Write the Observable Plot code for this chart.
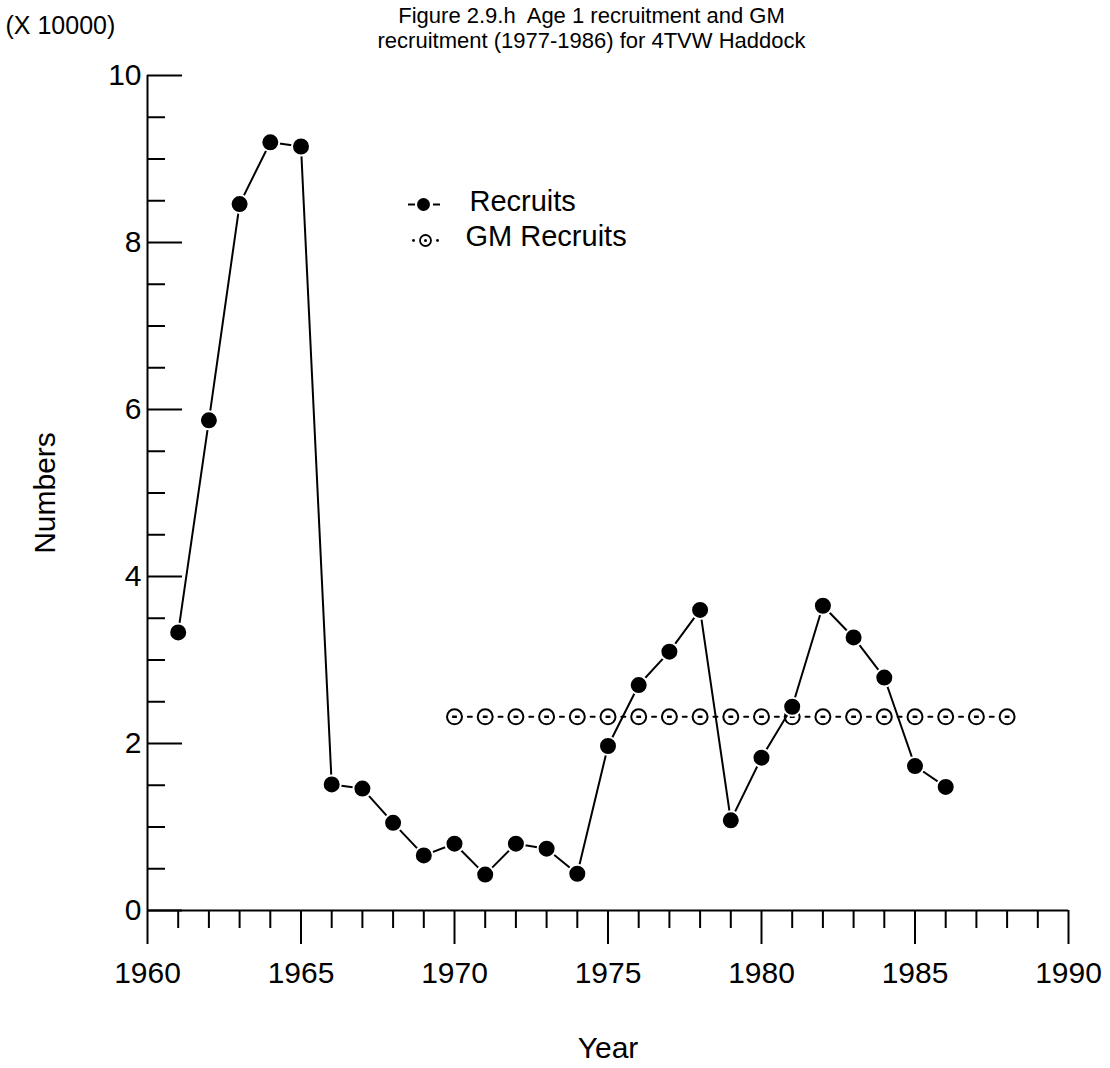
<!DOCTYPE html>
<html>
<head>
<meta charset="utf-8">
<script src="https://cdn.jsdelivr.net/npm/d3@7"></script>
<script src="https://cdn.jsdelivr.net/npm/@observablehq/plot@0.6"></script>
<style>
  body { margin: 0; background: #fff; }
  #chart svg { display: block; }
</style>
</head>
<body>
<div id="chart"></div>
<script>
// ---- Data ----
const recruitYears = [1961, 1962, 1963, 1964, 1965, 1966, 1967, 1968, 1969, 1970, 1971, 1972, 1973,
                      1974, 1975, 1976, 1977, 1978, 1979, 1980, 1981, 1982, 1983, 1984, 1985, 1986];
const recruitValues = [3.33, 5.87, 8.46, 9.20, 9.15, 1.51, 1.46, 1.05, 0.66, 0.80, 0.43, 0.80, 0.74,
                       0.44, 1.97, 2.70, 3.10, 3.60, 1.08, 1.83, 2.44, 3.65, 3.27, 2.79, 1.73, 1.48];
const gmYears = [1970, 1971, 1972, 1973, 1974, 1975, 1976, 1977, 1978, 1979,
                 1980, 1981, 1982, 1983, 1984, 1985, 1986, 1987, 1988];
const gmValues = [2.32, 2.32, 2.32, 2.32, 2.32, 2.32, 2.32, 2.32, 2.32, 2.32,
                  2.32, 2.32, 2.32, 2.32, 2.32, 2.32, 2.32, 2.32, 2.32];

const xMajorTicks = [1960, 1965, 1970, 1975, 1980, 1985, 1990];
const xMinorTicks = [1961, 1962, 1963, 1964, 1966, 1967, 1968, 1969, 1971, 1972, 1973, 1974,
                     1976, 1977, 1978, 1979, 1981, 1982, 1983, 1984, 1986, 1987, 1988, 1989];
const yMajorTicks = [0, 2, 4, 6, 8, 10];
const yMinorTicks = [0.5, 1, 1.5, 2.5, 3, 3.5, 4.5, 5, 5.5, 6.5, 7, 7.5, 8.5, 9, 9.5];

const titleText = "Figure 2.9.h\u00a0 Age 1 recruitment and GM\nrecruitment (1977-1986) for 4TVW Haddock";
const unitText = "(X 10000)";
const xLabel = "Year";
const yLabel = "Numbers";
const legendLabels = ["Recruits", "GM Recruits"];

// ---- Tables built from the arrays ----
const recData = recruitYears.map((year, i) => ({year, value: recruitValues[i]}));
const gmData = gmYears.map((year, i) => ({year, value: gmValues[i]}));

// ---- Layout ----
const W = 1110, H = 1068;
const mL = 147, mR = 42, mT = 75, mB = 158;
const frameW = W - mL - mR;
const font = "'Liberation Sans', Arial, Helvetica, sans-serif";

// small horizontal dash symbol
const hline = {
  draw(ctx, size) {
    const r = Math.sqrt(size / Math.PI);
    ctx.moveTo(-r, 0);
    ctx.lineTo(r, 0);
  }
};

const chart = Plot.plot({
  width: W,
  height: H,
  marginLeft: mL,
  marginRight: mR,
  marginTop: mT,
  marginBottom: mB,
  x: {domain: [1960, 1990], axis: null},
  y: {domain: [0, 10], axis: null},
  style: {fontFamily: font, fontSize: "30px", color: "#000", background: "#fff", overflow: "visible"},
  marks: [
    // axis lines
    Plot.ruleX([1960], {stroke: "black", strokeWidth: 2}),
    Plot.ruleY([0], {stroke: "black", strokeWidth: 2}),
    // x ticks (outward, down)
    Plot.axisX(xMinorTicks, {tickSize: 18, strokeWidth: 2, tickFormat: () => "", label: null}),
    Plot.axisX(xMajorTicks, {tickSize: 34, tickPadding: 17, strokeWidth: 2, fontSize: 30,
                             tickFormat: d => String(d), label: null}),
    // y ticks (inward, right)
    Plot.tickY(yMinorTicks, {y: d => d, insetRight: frameW - 18, stroke: "black", strokeWidth: 2}),
    Plot.tickY(yMajorTicks, {y: d => d, insetRight: frameW - 35, stroke: "black", strokeWidth: 2}),
    Plot.axisY(yMajorTicks, {tickSize: 0, tickPadding: 6, fontSize: 30, tickFormat: d => String(d), label: null}),

    // GM recruits: dashed line with open circles
    Plot.line(gmData, {x: "year", y: "value", stroke: "black", strokeWidth: 2,
                       strokeDasharray: "4,26.7", strokeDashoffset: 17.35}),
    Plot.dot(gmData, {x: "year", y: "value", r: 7.5, fill: "white", stroke: "black", strokeWidth: 2}),
    Plot.dot(gmData, {x: "year", y: "value", r: 2.4, symbol: hline, fill: "none", stroke: "black", strokeWidth: 2.5}),

    // Recruits: solid line with filled dots
    Plot.line(recData, {x: "year", y: "value", stroke: "black", strokeWidth: 2}),
    Plot.dot(recData, {x: "year", y: "value", r: 9, fill: "black", stroke: "white", strokeWidth: 2}),

    // titles and labels
    Plot.text([titleText], {text: d => d, frameAnchor: "top-left", dx: 444, dy: -28,
                            textAnchor: "middle", lineAnchor: "bottom", fontSize: 22, lineHeight: 1.136}),
    Plot.text([unitText], {text: d => d, frameAnchor: "top-left", dx: -142, dy: -42,
                           textAnchor: "start", lineAnchor: "bottom", fontSize: 25}),
    Plot.text([xLabel], {text: d => d, frameAnchor: "bottom", dy: 147, textAnchor: "middle",
                         lineAnchor: "bottom", fontSize: 30}),
    Plot.text([yLabel], {text: d => d, frameAnchor: "left", dx: -102, rotate: -90, textAnchor: "middle",
                         lineAnchor: "middle", fontSize: 30}),

    // legend: Recruits
    Plot.dot([legendLabels[0]], {frameAnchor: "top-left", dx: 264, dy: 129, r: 3.5, symbol: hline,
                                 fill: "none", stroke: "black", strokeWidth: 2}),
    Plot.dot([legendLabels[0]], {frameAnchor: "top-left", dx: 289, dy: 129, r: 3.5, symbol: hline,
                                 fill: "none", stroke: "black", strokeWidth: 2}),
    Plot.dot([legendLabels[0]], {frameAnchor: "top-left", dx: 276, dy: 129, r: 6.5, fill: "black", stroke: "none"}),
    Plot.text([legendLabels[0]], {text: d => d, frameAnchor: "top-left", dx: 322, dy: 135,
                                  textAnchor: "start", lineAnchor: "bottom", fontSize: 29}),
    // legend: GM Recruits
    Plot.dot([legendLabels[1]], {frameAnchor: "top-left", dx: 266, dy: 165, r: 1.4, fill: "black", stroke: "none"}),
    Plot.dot([legendLabels[1]], {frameAnchor: "top-left", dx: 290, dy: 165, r: 1.4, fill: "black", stroke: "none"}),
    Plot.dot([legendLabels[1]], {frameAnchor: "top-left", dx: 278, dy: 165, r: 5.5, fill: "white", stroke: "black", strokeWidth: 1.8}),
    Plot.dot([legendLabels[1]], {frameAnchor: "top-left", dx: 278, dy: 165, r: 1.5, fill: "black", stroke: "none"}),
    Plot.text([legendLabels[1]], {text: d => d, frameAnchor: "top-left", dx: 318, dy: 170,
                                  textAnchor: "start", lineAnchor: "bottom", fontSize: 29})
  ]
});

document.getElementById("chart").appendChild(chart);
</script>
</body>
</html>
